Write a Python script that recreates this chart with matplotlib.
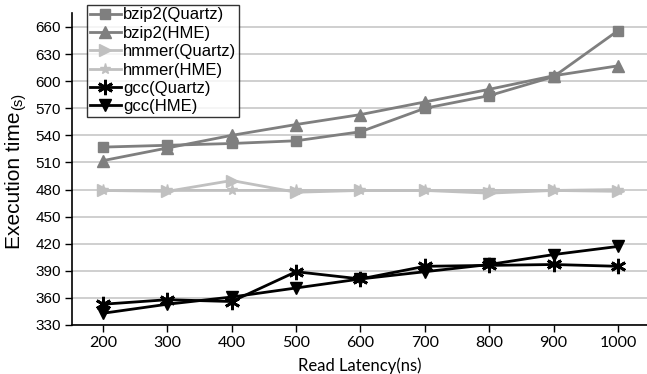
import matplotlib
matplotlib.use("Agg")
import matplotlib.pyplot as plt

latency = [200, 300, 400, 500, 600, 700, 800, 900, 1000]
bzip2_quartz = [527, 529, 531, 534, 544, 570, 584, 605, 656]
bzip2_hme = [512, 526, 540, 552, 563, 577, 591, 606, 617]
hmmer_quartz = [479, 478, 490, 477, 479, 479, 476, 479, 478]
hmmer_hme = [479, 479, 479, 479, 479, 479, 479, 479, 480]
gcc_quartz = [353, 358, 356, 389, 381, 395, 396, 397, 395]
gcc_hme = [343, 353, 361, 371, 381, 389, 397, 408, 417]
y_ticks = [330, 360, 390, 420, 450, 480, 510, 540, 570, 600, 630, 660]

SANS = ["Liberation Sans", "DejaVu Sans"]
plt.rcParams["font.family"] = SANS

fig = plt.figure(figsize=(6.47, 3.74), dpi=100)
ax = fig.add_axes([72 / 647, 1 - 325 / 374, 1 - 72 / 647, (325 - 13) / 374])

pos = list(range(len(latency)))
dark = "#7f7f7f"
light = "#c0c0c0"
asterisk = (6, 2, 0)

series = [
    ("bzip2(Quartz)", bzip2_quartz, dark, "s", 7, 1.0),
    ("bzip2(HME)", bzip2_hme, dark, "^", 8, 1.0),
    ("hmmer(Quartz)", hmmer_quartz, light, ">", 8, 1.0),
    ("hmmer(HME)", hmmer_hme, light, "*", 8, 1.0),
    ("gcc(Quartz)", gcc_quartz, "black", asterisk, 11, 2.0),
    ("gcc(HME)", gcc_hme, "black", "v", 8, 1.0),
]
for label, vals, col, mk, ms, mew in series:
    ax.plot(pos, vals, color=col, lw=2, marker=mk, ms=ms, mec=col, mfc=col,
            mew=mew, label=label, zorder=3)

ax.set_xlim(-0.48, 8.45)
ax.set_ylim(330, 675.5)
ax.set_xticks(pos)
ax.set_xticklabels([str(v) for v in latency], family=["Lato", "DejaVu Sans"], fontsize=11.5)
ax.set_yticks(y_ticks)
ax.set_yticklabels([str(v) for v in y_ticks], fontsize=11)
ax.tick_params(axis="both", direction="out", length=5, width=1, color="black", pad=3)
ax.grid(axis="y", color="#cccccc", lw=1.3, zorder=0)
ax.set_axisbelow(True)
for s in ("top", "right"):
    ax.spines[s].set_visible(False)
for s in ("left", "bottom"):
    ax.spines[s].set_color("black")
    ax.spines[s].set_linewidth(1.2)

ax.set_xlabel("Read Latency(ns)", family=["Lato", "DejaVu Sans"], fontsize=12, labelpad=5)
fig.text(15 / 647, 1 - 180 / 374, "Execution time", rotation=90, fontsize=15,
         ha="center", va="center")
fig.text(18 / 647, 1 - 101 / 374, "(s)", rotation=90, fontsize=10.5,
         ha="center", va="center")

leg = fig.legend(loc="upper left", bbox_to_anchor=(87 / 647, 1 - 5 / 374), frameon=True,
                 fontsize=12, handlelength=1.9, handletextpad=0.1, labelspacing=0.2,
                 borderpad=0.15, borderaxespad=0, fancybox=False)
leg.get_frame().set_edgecolor("black")
leg.get_frame().set_linewidth(1.0)

fig.savefig("out.png", dpi=100)
